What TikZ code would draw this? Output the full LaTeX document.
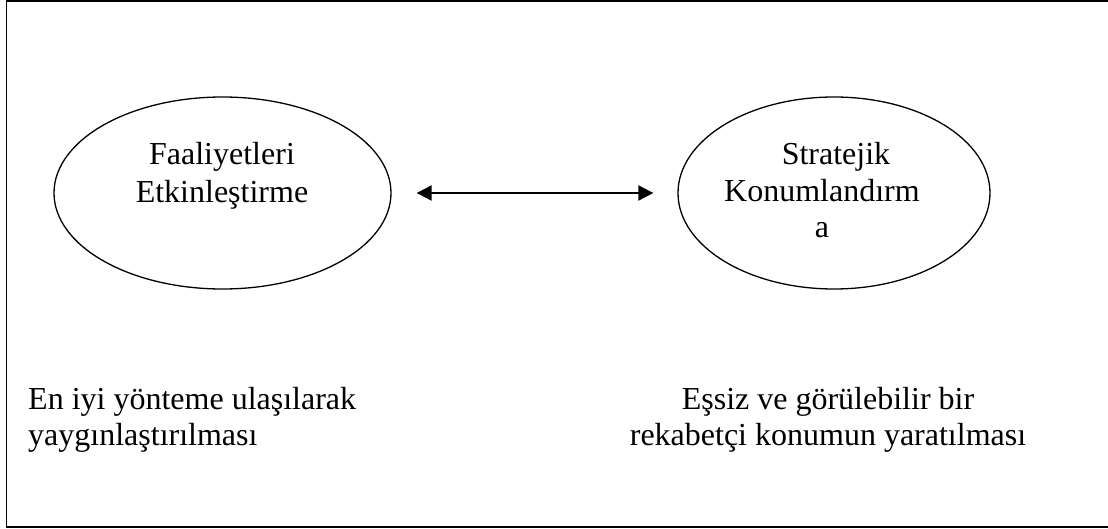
\documentclass[tikz,border=0pt]{standalone}
\usepackage{fontspec}
\setmainfont{Liberation Serif}
\usetikzlibrary{shapes.geometric,arrows.meta}
\tikzset{
  oval/.style={ellipse, draw, line width=1.3pt, inner sep=0pt},
  txt/.style={inner sep=0pt, anchor=base, font=\fontsize{32}{37}\selectfont},
  txtleft/.style={txt, anchor=base west},
  link/.style={line width=2pt, {Triangle[length=15pt,width=15pt]}-{Triangle[length=15pt,width=15pt]}},
}
\begin{document}
\begin{tikzpicture}[x=1pt,y=-1pt]
  \useasboundingbox (0,0) rectangle (1108,529);
  \clip (0,0) rectangle (1108,529);
  % outer frame (its right side runs past the page edge)
  \draw[line width=1.6pt] (6.5,1) rectangle (1125,527);

  % the two ovals
  \node[oval, minimum width=337pt, minimum height=192pt] (fa) at (222.5,193) {};
  \node[oval, minimum width=312pt, minimum height=192pt] (sk) at (834,193) {};

  % oval captions
  \node[txt] (fa1) at (222,165) {Faaliyetleri};
  \node[txt] (fa2) at (222,203) {Etkinleştirme};
  \node[txt] (sk1) at (836,165) {Stratejik};
  \node[txt] (sk2) at (822,202) {Konumlandırm};
  \node[txt] (sk3) at (822,238) {a};

  % two-way link
  \draw[link, shorten <=25pt, shorten >=24pt] (fa.east) -- (sk.west);

  % descriptions below
  \node[txtleft] (d1) at (28,409) {En iyi yönteme ulaşılarak};
  \node[txtleft] (d2) at (28,445) {yaygınlaştırılması};
  \node[txt] (d3) at (828,409) {Eşsiz ve görülebilir bir};
  \node[txt] (d4) at (828,445) {rekabetçi konumun yaratılması};
\end{tikzpicture}
\end{document}
